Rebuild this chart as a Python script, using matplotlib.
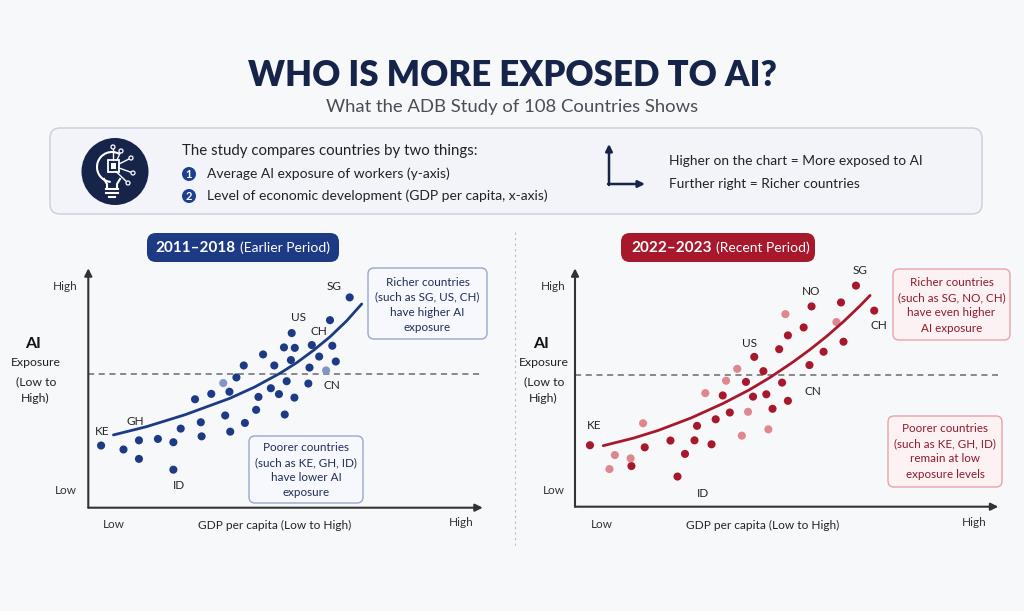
import matplotlib
matplotlib.use('Agg')
import matplotlib.pyplot as plt
from matplotlib.patches import FancyBboxPatch, Circle, Rectangle, Arc
import numpy as np

plt.rcParams['font.family'] = ['Lato', 'DejaVu Sans']

# Daten (Skala 0..100 fuer GDP und AI-Exposure)
left_x = [3.3, 9.1, 13.1, 13.1, 18.0, 22.0, 22.0, 23.9, 27.6, 29.1, 29.3, 31.8, 34.9, 35.4,
          36.5, 36.7, 38.3, 40.2, 40.5, 43.4, 44.0, 45.2, 47.2, 48.1, 49.3, 50.8, 50.6, 51.3,
          52.4, 52.6, 53.4, 53.3, 56.9, 57.2, 57.8, 59.7, 61.5, 62.5, 63.1, 64.0, 67.6]
left_y = [26.5, 24.8, 28.7, 20.8, 29.3, 27.9, 16.2, 33.7, 46.2, 36.4, 30.4, 48.5, 53.1, 39.3,
          49.4, 32.4, 55.5, 60.6, 36.1, 41.7, 47.2, 65.3, 50.9, 60.6, 48.4, 39.7, 68.3, 53.9,
          62.9, 74.4, 68.1, 46.9, 52.9, 59.7, 69.3, 64.4, 58.5, 79.9, 69.0, 62.3, 89.6]
left_light = [0, 0, 0, 0, 0, 0, 0, 0, 0, 0, 0, 0, 1, 0,
              0, 0, 0, 0, 0, 0, 0, 0, 0, 0, 0, 0, 0, 0,
              0, 0, 0, 0, 0, 0, 0, 0, 1, 0, 0, 0, 0]
left_trend_x = [6.5, 15, 25, 36.6, 43, 49.6, 54, 58.2, 62.5, 66.8, 70.7]
left_trend_y = [31.0, 34.5, 39.6, 46.6, 51.4, 57.3, 61.9, 67.0, 72.8, 79.6, 86.8]
left_avg = 57.0

right_x = [3.6, 8.3, 9.6, 13.4, 13.6, 16.4, 16.8, 23.0, 24.7, 26.5, 28.8, 29.4, 31.4, 32.9,
           33.9, 35.6, 36.4, 37.3, 39.1, 40.2, 41.2, 41.7, 42.9, 43.2, 45.4, 46.1, 46.6, 47.6,
           49.2, 49.9, 50.7, 51.3, 51.3, 55.1, 56.5, 57.0, 59.9, 63.0, 64.1, 64.7, 67.7, 72.1]
right_y = [26.3, 16.1, 22.1, 20.7, 17.4, 35.7, 25.4, 28.3, 12.9, 22.6, 28.4, 34.6, 48.6, 26.7,
           37.4, 47.6, 53.9, 40.3, 59.0, 30.4, 53.4, 40.6, 47.1, 64.1, 58.0, 48.1, 33.1, 41.9,
           67.4, 53.1, 82.4, 45.3, 73.3, 76.7, 60.6, 85.7, 66.3, 79.0, 87.4, 70.6, 94.6, 83.9]
right_light = [0, 1, 1, 1, 0, 1, 0, 0, 0, 0, 0, 0, 1, 0,
               0, 0, 1, 0, 1, 1, 0, 1, 0, 0, 0, 0, 1, 0,
               0, 0, 1, 0, 0, 0, 0, 0, 0, 1, 0, 0, 0, 0]
right_trend_x = [6.8, 14, 20, 28, 35.7, 42, 47, 52.6, 56.6, 60.7, 64.7, 68.7, 71.1]
right_trend_y = [26.1, 29.3, 32.6, 38.0, 44.2, 50.0, 55.3, 62.0, 67.2, 73.0, 79.2, 86.0, 90.4]
right_avg = 56.3

left_labels = {'KE': (3.6, 32.6), 'GH': (12.2, 36.6), 'ID': (23.5, 9.5), 'US': (54.4, 81.2),
               'CH': (59.7, 75.1), 'SG': (63.5, 94.3), 'CN': (63.1, 52.1)}
right_labels = {'KE': (4.6, 34.9), 'US': (42.0, 69.7), 'NO': (57.0, 91.9), 'SG': (68.8, 101),
                'CH': (73.3, 77.7), 'CN': (57.3, 49.4), 'ID': (30.9, 5.6)}

BG = '#f7f8fa'
NAVY = '#16244a'
BLUE = '#1d3b84'
BLUE_L = '#8596c4'
RED = '#a8182c'
RED_L = '#e0868f'

W, H = 1024, 611
fig = plt.figure(figsize=(W / 100, H / 100), dpi=100, facecolor=BG)

# Hintergrund-Achse in Pixelkoordinaten
bg = fig.add_axes([0, 0, 1, 1])
bg.set_xlim(0, W)
bg.set_ylim(H, 0)
bg.axis('off')
bg.set_facecolor(BG)

bg.text(512, 76, 'WHO IS MORE EXPOSED TO AI?', ha='center', va='center', fontsize=25,
        fontweight='heavy', color=NAVY)
bg.text(512, 107, 'What the ADB Study of 108 Countries Shows', ha='center', va='center',
        fontsize=13.3, color='#4a4d55')

# Infobox
bg.add_patch(FancyBboxPatch((50, 128), 932, 86, boxstyle='round,pad=0,rounding_size=10',
                            fc='#f2f4f9', ec='#c8cedb', lw=1.0))
bg.add_patch(Circle((115, 171.5), 33.5, fc=NAVY, ec='none'))
# Gluehbirne mit Chip (vereinfacht)
bg.add_patch(Arc((112, 167), 30, 30, theta1=95, theta2=300, color='white', lw=1.5))
bg.plot([104, 107, 107], [179, 184, 188], color='white', lw=1.5)
bg.plot([120, 117, 117], [179, 184, 188], color='white', lw=1.5)
for yy in (189, 193):
    bg.plot([106, 118], [yy, yy], color='white', lw=1.5)
bg.plot([109, 115], [197, 197], color='white', lw=1.5)
bg.add_patch(Rectangle((107.5, 160), 11.5, 11.5, fc='none', ec='white', lw=1.3))
bg.add_patch(Rectangle((110.5, 163), 5.5, 5.5, fc='white', ec='none'))
for (x0, y0, x1, y1) in [(113, 160, 113, 147), (117, 160, 121, 151), (119, 164, 131, 158),
                         (119, 168, 133, 173), (116, 171.5, 128, 183)]:
    bg.plot([x0, x1], [y0, y1], color='white', lw=1.0)
    bg.add_patch(Circle((x1, y1), 2.0, fc=NAVY, ec='white', lw=0.9, zorder=3))

bg.text(182, 151, 'The study compares countries by two things:', ha='left', va='center',
        fontsize=10.8, color='#222222')
for num, yy, txt in [('1', 174, 'Average AI exposure of workers (y-axis)'),
                     ('2', 196, 'Level of economic development (GDP per capita, x-axis)')]:
    bg.add_patch(Circle((189, yy), 7, fc='#1d3f8f', ec='none'))
    bg.text(189, yy + 0.5, num, ha='center', va='center', fontsize=8, fontweight='bold',
            color='white')
    bg.text(207, yy, txt, ha='left', va='center', fontsize=10, color='#222222')

bg.annotate('', xy=(609, 144), xytext=(609, 185),
            arrowprops=dict(arrowstyle='-|>', color=NAVY, lw=1.8, shrinkA=0, shrinkB=0,
                            mutation_scale=10))
bg.annotate('', xy=(645, 184), xytext=(608, 184),
            arrowprops=dict(arrowstyle='-|>', color=NAVY, lw=1.8, shrinkA=0, shrinkB=0,
                            mutation_scale=10))
bg.text(669, 161, 'Higher on the chart = More exposed to AI', ha='left', va='center',
        fontsize=9.9, color='#222222')
bg.text(669, 184, 'Further right = Richer countries', ha='left', va='center',
        fontsize=9.9, color='#222222')

# Trennlinie
bg.plot([515, 515], [232, 545], color='#bcbcbc', lw=0.8, ls=(0, (2, 3)))


def period_box(x0, x1, split, c, year, period):
    bg.add_patch(FancyBboxPatch((x0, 233), x1 - x0, 29, boxstyle='round,pad=0,rounding_size=9',
                                fc=c, ec='none'))
    bg.text(split, 248, year, ha='right', va='center', fontsize=11, fontweight='bold',
            color='white')
    bg.text(split + 4, 248, period, ha='left', va='center', fontsize=10, color='white')


period_box(147, 339, 236, BLUE, '2011–2018', '(Earlier Period)')
period_box(621, 815, 712, RED, '2022–2023', '(Recent Period)')


def note_box(x0, y0, x1, y1, lines, ys, cx, ec, fc, tc):
    bg.add_patch(FancyBboxPatch((x0, y0), x1 - x0, y1 - y0,
                                boxstyle='round,pad=0,rounding_size=6', fc=fc, ec=ec, lw=1.0))
    for t, yy in zip(lines, ys):
        bg.text(cx, yy, t, ha='center', va='center', fontsize=8.4, color=tc)


note_box(368, 268, 487, 339, ['Richer countries', '(such as SG, US, CH)', 'have higher AI',
                              'exposure'], [282, 297, 312, 327.5], 427.5,
         '#98a8cc', '#f6f8fd', '#1f2d55')
note_box(249, 436, 363, 503, ['Poorer countries', '(such as KE, GH, ID)', 'have lower AI',
                              'exposure'], [447.5, 462.5, 477.5, 493], 306,
         '#98a8cc', '#f6f8fd', '#1f2d55')
note_box(893, 269, 1010, 340, ['Richer countries', '(such as SG, NO, CH)', 'have even higher',
                               'AI exposure'], [282.5, 297.5, 312.5, 328], 951.5,
         '#e6a4ab', '#fcf2f3', '#8e1a2a')
note_box(888, 416, 1002, 487, ['Poorer countries', '(such as KE, GH, ID)', 'remain at low',
                               'exposure levels'], [429, 444, 459, 474], 945,
         '#e6a4ab', '#fcf2f3', '#8e1a2a')

# Achsenbeschriftungen
for (hx, lx, gx, axl, ayl) in [(65, 114, 275, 33, 36), (553, 602, 763, 541, 544)]:
    bg.text(hx, 286, 'High', ha='center', va='center', fontsize=8.5, color='#333333')
    bg.text(hx + 1, 490, 'Low', ha='center', va='center', fontsize=8.5, color='#333333')
    bg.text(lx, 524, 'Low', ha='center', va='center', fontsize=8.5, color='#333333')
    bg.text(gx, 525, 'GDP per capita (Low to High)', ha='center', va='center', fontsize=8.6,
            color='#222222')
    bg.text(axl, 344, 'AI', ha='center', va='center', fontsize=11.5, fontweight='bold',
            color='#111111')
    bg.text(ayl, 362, 'Exposure', ha='center', va='center', fontsize=8.8, color='#222222')
    bg.text(ayl, 382, '(Low to', ha='center', va='center', fontsize=8.8, color='#222222')
    bg.text(ayl - 1, 398, 'High)', ha='center', va='center', fontsize=8.8, color='#222222')
bg.text(461, 523, 'High', ha='center', va='center', fontsize=8.5, color='#333333')
bg.text(974, 523, 'High', ha='center', va='center', fontsize=8.5, color='#333333')


def panel(rect, xs, ys, light, tx, ty, avg, labels, c, cl):
    ax = fig.add_axes([rect[0] / W, (H - rect[3]) / H, (rect[2] - rect[0]) / W,
                       (rect[3] - rect[1]) / H])
    ax.set_xlim(0, 100)
    ax.set_ylim(0, 100)
    ax.axis('off')
    ax.patch.set_alpha(0)
    xs, ys, light = np.array(xs), np.array(ys), np.array(light, dtype=bool)
    ax.annotate('', xy=(102, 0), xytext=(0, 0), annotation_clip=False,
                arrowprops=dict(arrowstyle='-|>', color='#333333', lw=1.5, shrinkA=0,
                                shrinkB=0, mutation_scale=11))
    ax.annotate('', xy=(0, 102), xytext=(0, 0), annotation_clip=False,
                arrowprops=dict(arrowstyle='-|>', color='#333333', lw=1.5, shrinkA=0,
                                shrinkB=0, mutation_scale=11))
    ax.plot([0, 102], [avg, avg], color='#6b6b6b', lw=1.1, ls=(0, (4, 3)), clip_on=False)
    ax.scatter(xs[~light], ys[~light], s=34, color=c, edgecolor='none', zorder=3, clip_on=False)
    ax.scatter(xs[light], ys[light], s=34, color=cl, edgecolor='none', zorder=3, clip_on=False)
    ax.plot(tx, ty, color=c, lw=2.0, solid_capstyle='round', solid_joinstyle='round',
            zorder=4, clip_on=False)
    for k, (lx, ly) in labels.items():
        ax.text(lx, ly, k, ha='center', va='center', fontsize=8.5, color='#222222',
                clip_on=False)
    return ax


panel((88.3, 273, 475, 507.7), left_x, left_y, left_light, left_trend_x, left_trend_y,
      left_avg, left_labels, BLUE, BLUE_L)
panel((575, 273, 990, 506.7), right_x, right_y, right_light, right_trend_x, right_trend_y,
      right_avg, right_labels, RED, RED_L)

fig.savefig('out.png', dpi=100, facecolor=BG)
